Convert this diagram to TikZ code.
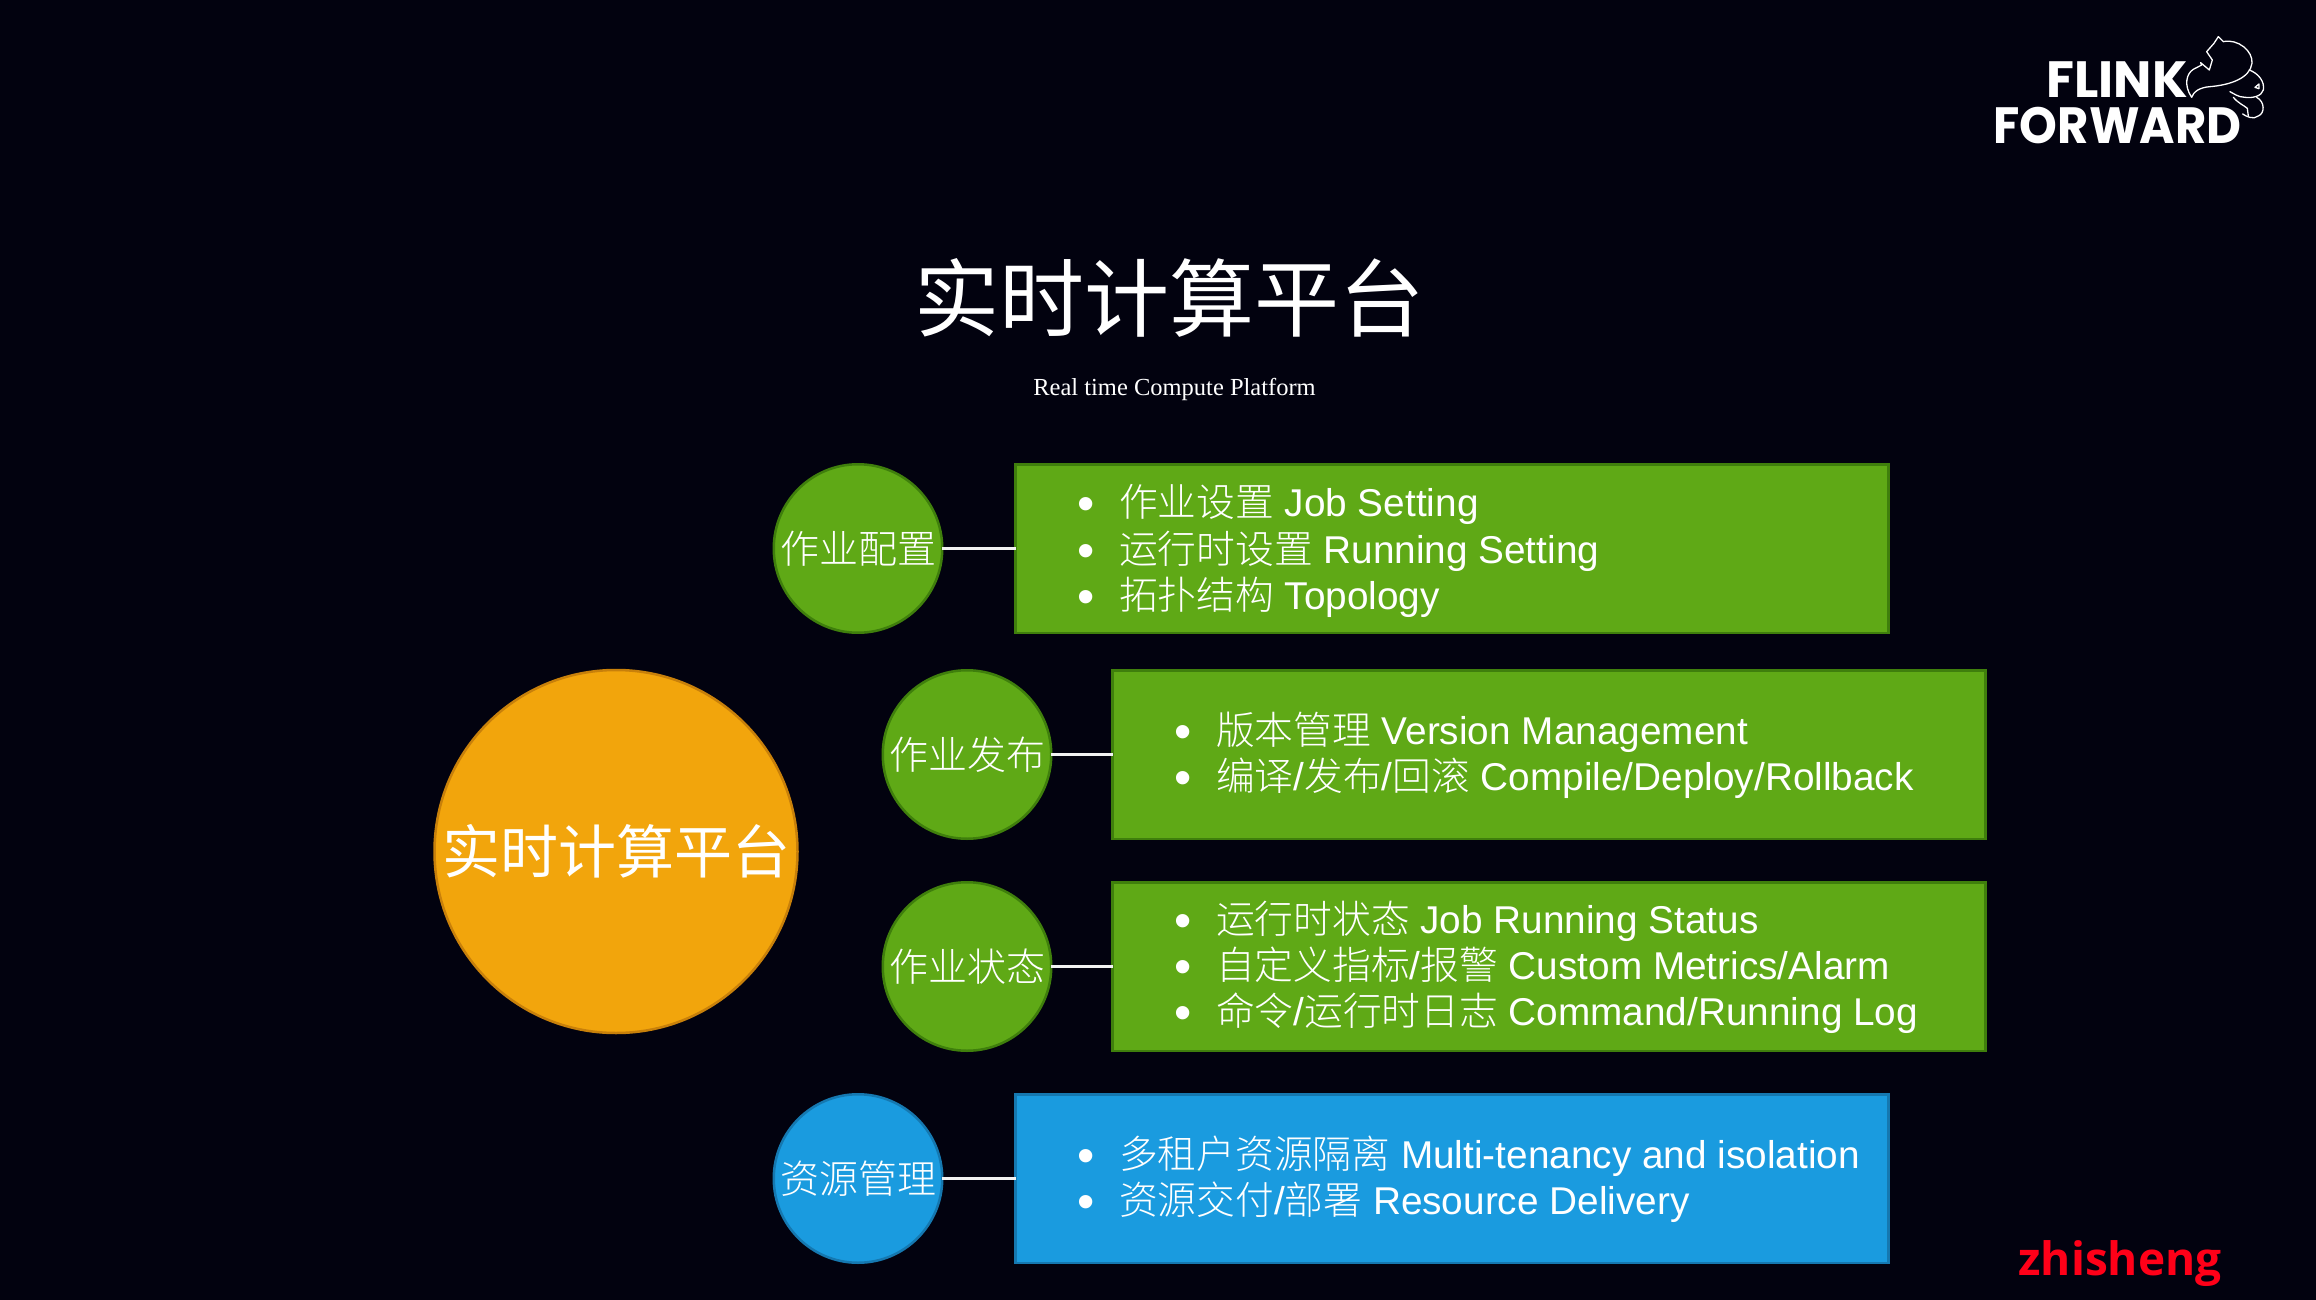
\documentclass[tikz,border=0pt]{standalone}
\usepackage{fontspec}
\setmainfont{Liberation Sans}
\newfontfamily\cjk{Noto Sans CJK SC}
\newfontfamily\cjklt{Noto Sans CJK SC Light}
\newfontfamily\serifl{Liberation Serif}
\newfontfamily\logofont{Poppins}
\newfontfamily\wmfont{Open Sans}
\newcommand{\zh}[1]{{\cjklt #1}}
\newcommand{\bul}{\makebox[42pt][l]{\raisebox{-4pt}{\scalebox{1.27}{•}}}}
\definecolor{bgc}{HTML}{02020F}
\definecolor{grn}{HTML}{5FA916}
\definecolor{grnd}{HTML}{3F7F0C}
\definecolor{blu}{HTML}{1A9BDF}
\definecolor{blud}{HTML}{1578B0}
\definecolor{org}{HTML}{F2A50C}
\definecolor{orgd}{HTML}{C8800A}
\definecolor{wm}{HTML}{FF0018}
\tikzset{
 x=1pt,y=-1pt,
 every node/.style={inner sep=0pt,outer sep=0pt,text=white},
 circ/.style={circle,minimum size=168.5pt,line width=2.5pt,font=\cjklt\fontsize{39}{44}\selectfont,align=center},
 grnc/.style={circ,fill=grn,draw=grnd},
 bluc/.style={circ,fill=blu,draw=blud},
 grnb/.style={fill=grn,draw=grnd,line width=2.5pt},
 blub/.style={fill=blu,draw=blud,line width=2.5pt},
 listline/.style={anchor=base west,font=\fontsize{38.75}{46}\selectfont},
 conn/.style={draw=white!90!gray,line width=2.5pt},
 squir/.style={draw=white,line width=1.3pt,line join=round,line cap=round},
}
\begin{document}
\begin{tikzpicture}
\useasboundingbox (0,0) rectangle (2316,1300);
\fill[bgc] (0,0) rectangle (2316,1300);
% title
\node[anchor=base] (title) at (1169,330) {\cjk\fontsize{85}{90}\selectfont 实时计算平台};
\node[anchor=base] (sub) at (1174.5,395) {\serifl\fontsize{24.5}{28}\selectfont Real time Compute Platform};
% big circle
\node[circle,minimum size=363pt,fill=org,draw=orgd,line width=2.5pt,font=\cjk\fontsize{58}{64}\selectfont] (main) at (616,851.5) {实时计算平台};
% circles
\node[grnc] (c1) at (858,548.5) {作业配置};
\node[grnc] (c2) at (967,754.5) {作业发布};
\node[grnc] (c3) at (967,966.5) {作业状态};
\node[bluc] (c4) at (858,1178.5) {资源管理};
% boxes
\node[grnb,minimum width=873pt,minimum height=168.5pt] (b1) at (1452,548.5) {};
\node[grnb,minimum width=873pt,minimum height=168.5pt] (b2) at (1549,754.5) {};
\node[grnb,minimum width=873pt,minimum height=168.5pt] (b3) at (1549,966.5) {};
\node[blub,minimum width=873pt,minimum height=168.5pt] (b4) at (1452,1178.5) {};
% connectors
\draw[conn] (c1.east) -- (b1.west);
\draw[conn] (c2.east) -- (b2.west);
\draw[conn] (c3.east) -- (b3.west);
\draw[conn] (c4.east) -- (b4.west);
% list text
\node[listline] (l11) at (1077,516) {\bul\zh{作业设置} Job Setting};
\node[listline] (l12) at (1077,563) {\bul\zh{运行时设置} Running Setting};
\node[listline] (l13) at (1077,609) {\bul\zh{拓扑结构} Topology};
\node[listline] (l21) at (1174,744) {\bul\zh{版本管理} Version Management};
\node[listline] (l22) at (1174,790) {\bul\zh{编译}/\zh{发布}/\zh{回滚} Compile/Deploy/Rollback};
\node[listline] (l31) at (1174,933) {\bul\zh{运行时状态} Job Running Status};
\node[listline] (l32) at (1174,979) {\bul\zh{自定义指标}/\zh{报警} Custom Metrics/Alarm};
\node[listline] (l33) at (1174,1025) {\bul\zh{命令}/\zh{运行时日志} Command/Running Log};
\node[listline] (l41) at (1077,1168) {\bul\zh{多租户资源隔离} Multi-tenancy and isolation};
\node[listline] (l42) at (1077,1214) {\bul\zh{资源交付}/\zh{部署} Resource Delivery};
% logo
\node[anchor=base] (flink) at (2117,98) {\logofont\bfseries\fontsize{51}{54}\selectfont FLINK};
\node[anchor=base] (forward) at (2117.5,144) {\scalebox{0.943}[1]{\logofont\bfseries\fontsize{51}{54}\selectfont FORWARD}};
\begin{scope}[shift={(1960,10)},x=0.3333pt,y=-0.3333pt]
\draw[squir] (695,262) .. controls (670,225) and (680,190) .. (700,178)
  -- (725,165) -- (722,158) -- (748,180) -- (757,150) -- (740,125) -- (762,100) -- (775,80) -- (790,95)
  .. controls (835,85) and (880,125) .. (876,160)
  .. controls (870,205) and (810,225) .. (750,230)
  .. controls (720,232) and (700,245) .. (695,262);
\draw[squir] (868,180) .. controls (895,190) and (915,215) .. (910,240)
  .. controls (905,258) and (880,265) .. (855,262)
  .. controls (835,262) and (820,250) .. (810,245);
\draw[squir] (885,232) -- (897,222) -- (897,236) -- cycle;
\draw[squir] (890,262) .. controls (915,275) and (915,310) .. (895,318)
  .. controls (880,330) and (860,320) .. (848,312);
\draw[squir] (820,262) .. controls (835,280) and (850,285) .. (862,295) -- (865,318);
\end{scope}
% watermark
\node[anchor=base] (wmk) at (2120,1275) {\wmfont\bfseries\fontsize{46}{50}\selectfont\color{wm} zhisheng};
\end{tikzpicture}
\end{document}
